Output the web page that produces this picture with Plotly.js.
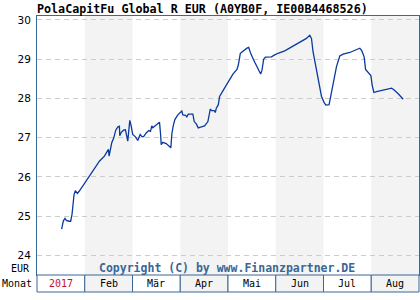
<!DOCTYPE html>
<html>
<head>
<meta charset="utf-8">
<script src="https://cdn.plot.ly/plotly-3.0.1.min.js"></script>
<style>html,body{margin:0;padding:0;background:#fff;}#chart{width:420px;height:300px;}</style>
</head>
<body>
<div id="chart"></div>
<script>
// Time in month units (0 = start of Jan 2017, 8 = end of Aug 2017)
const monthPos = [
  0.516,0.552,0.587,0.615,0.671,0.705,0.734,0.755,0.776,0.803,0.845,0.887,
  1.307,1.412,1.468,1.496,1.510,1.538,1.565,1.607,1.649,1.691,1.726,1.733,1.762,1.810,1.852,1.901,1.943,1.972,
  2.005,2.062,2.110,2.161,2.203,2.236,2.287,2.341,2.377,2.404,2.425,2.496,2.566,2.587,2.601,2.635,2.706,2.803,2.824,2.853,2.887,2.949,
  3.033,3.054,3.111,3.138,3.168,3.264,3.293,3.335,3.377,3.426,3.510,3.579,3.600,3.629,3.656,3.713,3.734,3.755,3.797,3.824,3.893,3.965,
  4.034,4.103,4.187,4.216,4.258,4.313,4.355,4.397,4.433,4.468,4.537,4.628,4.684,4.712,4.747,4.783,4.909,4.978,
  5.047,5.188,5.433,5.643,5.712,5.748,5.781,5.853,5.907,5.958,
  6.012,6.048,6.117,6.149,6.200,6.272,6.341,6.411,6.551,6.692,6.761,6.803,6.851,6.881,6.944,6.992,
  7.019,7.055,7.111,7.286,7.426,7.474,7.565,7.669
];
const priceEUR = [
  24.67,24.88,24.94,24.89,24.87,24.87,25.05,25.32,25.55,25.65,25.58,25.64,
  26.40,26.53,26.64,26.70,26.53,26.68,26.87,26.99,27.19,27.27,27.29,27.05,27.13,27.19,27.20,26.91,27.44,27.30,
  27.08,27.02,26.93,27.08,27.02,27.03,27.12,27.18,27.16,27.30,27.25,27.32,27.39,27.10,26.82,26.88,26.85,26.74,27.10,27.30,27.46,27.58,
  27.68,27.58,27.57,27.53,27.60,27.60,27.41,27.35,27.25,27.27,27.30,27.41,27.58,27.73,27.69,27.69,27.64,27.75,27.84,28.05,28.19,28.33,
  28.47,28.62,28.74,28.85,29.15,29.21,29.25,29.28,29.30,29.17,28.98,28.77,28.62,28.72,29.00,29.05,29.06,29.11,
  29.15,29.21,29.38,29.53,29.61,29.53,29.19,28.72,28.43,28.05,
  27.90,27.83,27.84,28.05,28.37,28.81,29.08,29.13,29.17,29.25,29.28,29.21,29.06,28.74,28.66,28.58,
  28.34,28.15,28.17,28.22,28.26,28.22,28.12,27.98
];
const monthLabels = ['2017','Feb','Mär','Apr','Mai','Jun','Jul','Aug'];
const yTicks = [24,25,26,27,28,29,30];

const border = '#3a6796';
const band = '#f3f3f3';
const nM = monthLabels.length;
const rowH = 17/259;

const shapes = [];
const annotations = [];
monthLabels.forEach((m, i) => {
  if (i % 2 === 1) {
    shapes.push({type:'rect', xref:'x', yref:'paper', x0:i, x1:i+1, y0:0, y1:1,
      fillcolor:band, line:{width:0}, layer:'below'});
  }
  shapes.push({type:'rect', xref:'paper', yref:'paper', x0:i/nM, x1:(i+1)/nM, y0:-rowH, y1:0,
    fillcolor:(i % 2 === 1) ? band : '#ffffff', line:{color:border, width:1}, layer:'above'});
  annotations.push({xref:'paper', yref:'paper', x:(i+0.5)/nM, y:-rowH/2, text:m, showarrow:false,
    xanchor:'center', yanchor:'middle',
    font:{family:'DejaVu Sans Mono', size:10, color: i === 0 ? '#c8102e' : '#000000'}});
});

annotations.push({xref:'paper', yref:'paper', x:-37/382, y:-rowH/2, text:'Monat', showarrow:false,
  xanchor:'left', yanchor:'middle', font:{family:'DejaVu Sans Mono', size:10, color:'#000'}});
annotations.push({xref:'paper', yref:'paper', x:-5/382, y:7/259, text:'EUR', showarrow:false,
  xanchor:'right', yanchor:'middle', font:{family:'DejaVu Sans Mono', size:10, color:'#000'}});
annotations.push({xref:'paper', yref:'paper', x:0.497, y:7.5/259, text:'Copyright (C) by www.Finanzpartner.DE', showarrow:false,
  xanchor:'center', yanchor:'middle', font:{family:'DejaVu Sans Mono', size:11.5, color:'#3a6796', weight:'bold'}});

const trace = {
  x: monthPos, y: priceEUR, type:'scatter', mode:'lines',
  line:{color:'#0a3aa0', width:1.3}, hoverinfo:'skip'
};

const layout = {
  width:420, height:300,
  margin:{l:37, r:1, t:16, b:25},
  paper_bgcolor:'#ffffff', plot_bgcolor:'#ffffff',
  showlegend:false,
  title:{text:'PolaCapitFu Global R EUR (A0YB0F, IE00B4468526)', xref:'container', x:37/420, xanchor:'left',
    yref:'container', y:1-9/300, yanchor:'middle',
    font:{family:'DejaVu Sans Mono', size:11.7, color:'#000', weight:'bold'}},
  xaxis:{range:[0,8], showgrid:false, zeroline:false, showticklabels:false, ticks:'',
    showline:true, mirror:true, linecolor:border, linewidth:1, fixedrange:true},
  yaxis:{range:[23.5,30.1], tickvals:yTicks, ticktext:yTicks.map(String), showgrid:true, gridcolor:'#cccccc',
    griddash:'5px,4px', gridwidth:1, zeroline:false, ticks:'', ticklabelstandoff:3,
    showline:true, mirror:true, linecolor:border, linewidth:1,
    tickfont:{family:'DejaVu Sans', size:10.5, color:'#000'}, fixedrange:true},
  shapes: shapes,
  annotations: annotations
};

Plotly.newPlot('chart', [trace], layout, {staticPlot:true, displayModeBar:false});
</script>
</body>
</html>
